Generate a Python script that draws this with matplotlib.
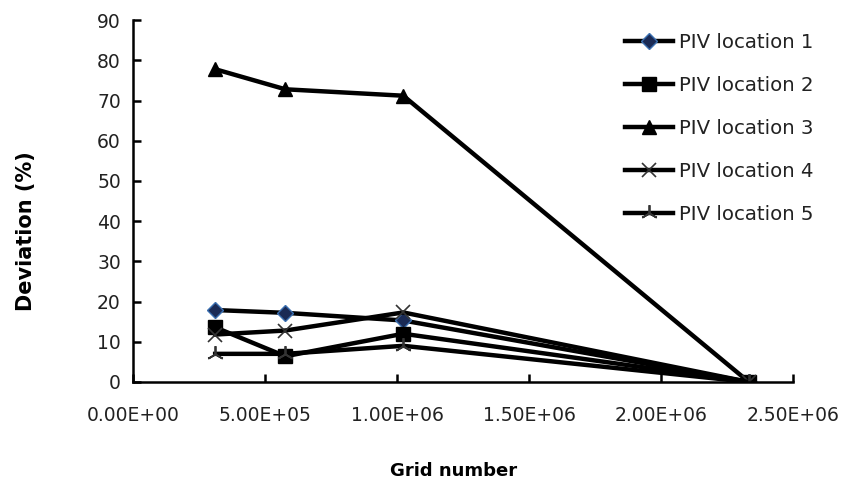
import matplotlib.pyplot as plt
from matplotlib.ticker import FuncFormatter

# grid sizes and deviation per PIV location
grid = [3.1e5, 5.76e5, 1.023e6, 2.333e6]
loc1 = [17.9, 17.2, 15.3, 0]
loc2 = [13.6, 6.4, 12.0, 0]
loc3 = [77.8, 72.8, 71.2, 0]
loc4 = [11.8, 12.8, 17.3, 0]
loc5 = [7.0, 7.0, 9.0, 0]
labels = ['PIV location 1', 'PIV location 2', 'PIV location 3',
          'PIV location 4', 'PIV location 5']

plt.rcParams['font.family'] = ['DejaVu Sans']

fig = plt.figure(figsize=(8.44, 4.91), dpi=100)
ax = fig.add_axes([0.158, 0.222, 0.7815, 0.737])

lw = 3.2
ax.plot(grid, loc1, color='black', lw=lw, marker='D', ms=8.5,
        mfc='#1a2a55', mec='#3a6fb0', mew=1, label=labels[0])
ax.plot(grid, loc2, color='black', lw=lw, marker='s', ms=10,
        mfc='black', mec='black', label=labels[1])
ax.plot(grid, loc3, color='black', lw=lw, marker='^', ms=10,
        mfc='black', mec='black', label=labels[2])
ax.plot(grid, loc4, color='black', lw=lw, marker='x', ms=10,
        mec='#333333', mew=1.2, label=labels[3])
ax.plot(grid, loc5, color='black', lw=lw, marker=(3, 2, 0), ms=12,
        mec='#333333', mew=1.3, label=labels[4])

ax.set_xlim(0, 2.5e6)
ax.set_ylim(0, 90)
ax.set_xticks([0, 5e5, 1e6, 1.5e6, 2e6, 2.5e6])
ax.set_yticks(range(0, 91, 10))
ax.xaxis.set_major_formatter(FuncFormatter(lambda v, p: f'{v:.2E}'))

for s in ['top', 'right']:
    ax.spines[s].set_visible(False)
for s in ['left', 'bottom']:
    ax.spines[s].set_linewidth(1.8)
ax.tick_params(axis='both', direction='in', length=6, width=1.8,
               labelsize=13.5, labelcolor='#222222')
ax.tick_params(axis='x', pad=17)
ax.tick_params(axis='y', pad=9)

ax.set_xlabel('Grid number', fontsize=13, fontweight='bold')
ax.set_ylabel('Deviation (%)', fontsize=15, fontweight='bold')
ax.xaxis.set_label_coords(0.485, -0.222)
ax.yaxis.set_label_coords(-0.147, 0.417)

leg = ax.legend(loc='upper left', bbox_to_anchor=(0.734, 0.986), frameon=False,
                fontsize=14.2, handlelength=2.4, handletextpad=0.3,
                labelspacing=1.21, borderaxespad=0)
for t in leg.get_texts():
    t.set_color('#222222')

fig.savefig('out.png', dpi=100)
